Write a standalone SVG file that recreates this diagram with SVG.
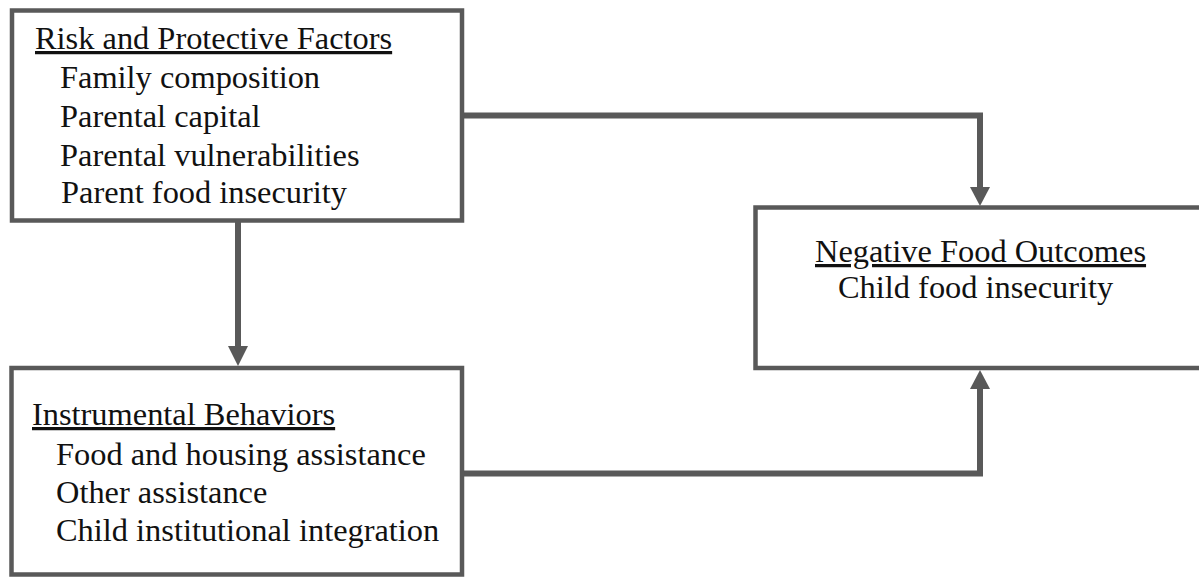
<svg xmlns="http://www.w3.org/2000/svg" width="1199" height="578" viewBox="0 0 1199 578">
<defs>
<style>
.box{fill:#fff;stroke:#595959;stroke-width:4.5}
.conn{fill:none;stroke:#595959;stroke-width:6}
text{font-family:'Liberation Serif','Times New Roman',serif;font-size:32.4px;fill:#111}
.u{text-decoration:underline}
</style>
</defs>
<rect width="1199" height="578" fill="#fff"/>
<g id="connectors">
<path class="conn" d="M238,222 V346" />
<path d="M228,346 L248,346 L238,366 Z" fill="#595959"/>
<path class="conn" d="M462,115.5 H980 V187" />
<path d="M970,187 L990,187 L980,206 Z" fill="#595959"/>
<path class="conn" d="M462,473.5 H980 V389" />
<path d="M970,389 L990,389 L980,370 Z" fill="#595959"/>
</g>
<g id="risk">
<rect class="box" x="12" y="10.5" width="450" height="210"/>
<text class="u" x="35" y="49">Risk and Protective Factors</text>
<text x="60" y="88">Family composition</text>
<text x="60" y="127">Parental capital</text>
<text x="60" y="166">Parental vulnerabilities</text>
<text x="61" y="203">Parent food insecurity</text>
</g>
<g id="instrumental">
<rect class="box" x="11.5" y="368" width="450.5" height="206.5"/>
<text class="u" x="32" y="425">Instrumental Behaviors</text>
<text x="56" y="465">Food and housing assistance</text>
<text x="56" y="503">Other assistance</text>
<text x="56" y="541">Child institutional integration</text>
</g>
<g id="outcomes">
<rect class="box" x="755.5" y="207.5" width="460" height="160.5"/>
<text class="u" x="815" y="262">Negative Food Outcomes</text>
<text x="838" y="298">Child food insecurity</text>
</g>
</svg>
